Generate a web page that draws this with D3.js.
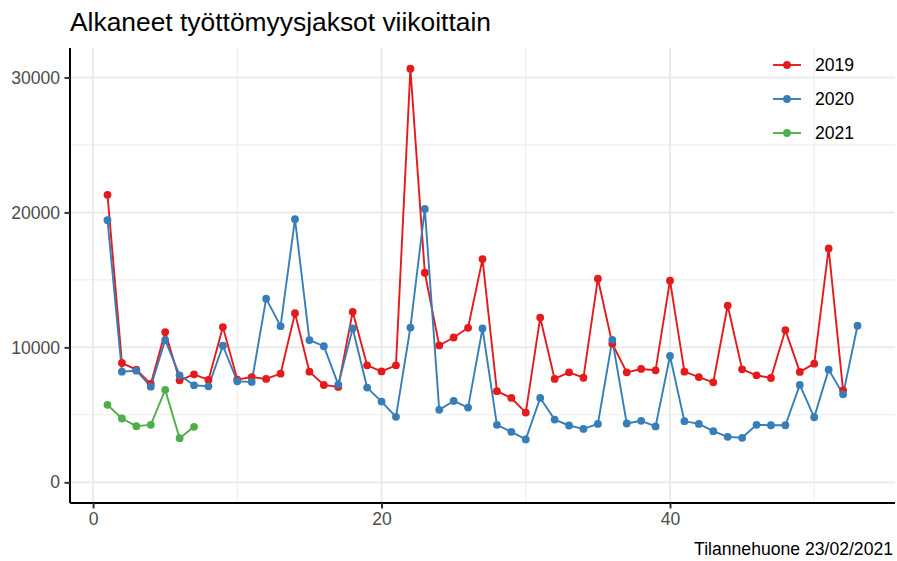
<!DOCTYPE html>
<html>
<head>
<meta charset="utf-8">
<script src="https://cdn.jsdelivr.net/npm/d3@7"></script>
<style>
  html, body { margin: 0; padding: 0; background: #fff; }
  svg { display: block; }
  text { font-family: "Liberation Sans", Arial, sans-serif; }
</style>
</head>
<body>
<svg id="chart" width="897" height="561"></svg>
<script>
// ---- data ----
const title = "Alkaneet työttömyysjaksot viikoittain";
const caption = "Tilannehuone 23/02/2021";
const seriesNames = ["2019", "2020", "2021"];
const seriesColors = ["#E41A1C", "#377EB8", "#4DAF4A"];
const values2019 = [21300, 8840, 8350, 7290, 11130, 7560, 8000, 7590, 11500, 7610,
  7800, 7660, 8050, 12530, 8200, 7210, 7070, 12630, 8670, 8220,
  8670, 30650, 15530, 10140, 10730, 11450, 16540, 6750, 6250, 5170,
  12210, 7660, 8150, 7750, 15090, 10270, 8150, 8400, 8300, 14940,
  8200, 7800, 7410, 13100, 8370, 7930, 7730, 11280, 8180, 8790,
  17330, 6820];
const values2020 = [19420, 8200, 8270, 7090, 10540, 7930, 7190, 7110, 10120, 7480,
  7440, 13610, 11570, 19500, 10540, 10090, 7240, 11400, 7020, 5980,
  4850, 11470, 20260, 5370, 6030, 5540, 11400, 4260, 3740, 3180,
  6250, 4650, 4210, 3960, 4330, 10560, 4360, 4560, 4140, 9360,
  4530, 4330, 3790, 3370, 3300, 4260, 4230, 4230, 7220, 4820,
  8350, 6520, 11600];
const values2021 = [5740, 4730, 4160, 4260, 6850, 3270, 4110];
const xMajorTicks = [0, 20, 40];
const xMinorTicks = [10, 30, 50];
const yMajorTicks = [0, 10000, 20000, 30000];
const yMinorTicks = [5000, 15000, 25000];

const series = [values2019, values2020, values2021].map((vals, i) => ({
  name: seriesNames[i],
  color: seriesColors[i],
  points: vals.map((v, j) => ({ week: j + 1, value: v }))
}));

// ---- layout ----
const svg = d3.select("#chart");
const panel = { left: 70, right: 895, top: 48, bottom: 503 };

const allPts = series.flatMap(s => s.points);
const xExt = d3.extent(allPts, d => d.week);
const yExt = d3.extent(allPts, d => d.value);
yExt[0] = Math.min(0, yExt[0]);
const xPad = (xExt[1] - xExt[0]) * 0.05;
const yPad = (yExt[1] - yExt[0]) * 0.05;

const x = d3.scaleLinear().domain([xExt[0] - xPad, xExt[1] + xPad]).range([panel.left, panel.right]);
const y = d3.scaleLinear().domain([yExt[0] - yPad, yExt[1] + yPad]).range([panel.bottom, panel.top]);

// ---- grid ----
const grid = svg.append("g");
grid.selectAll(".ymin").data(yMinorTicks).join("line")
  .attr("x1", panel.left).attr("x2", panel.right)
  .attr("y1", d => y(d)).attr("y2", d => y(d))
  .attr("stroke", "#EBEBEB").attr("stroke-width", 1);
grid.selectAll(".xmin").data(xMinorTicks).join("line")
  .attr("y1", panel.top).attr("y2", panel.bottom)
  .attr("x1", d => x(d)).attr("x2", d => x(d))
  .attr("stroke", "#EBEBEB").attr("stroke-width", 1);
grid.selectAll(".ymaj").data(yMajorTicks).join("line")
  .attr("x1", panel.left).attr("x2", panel.right)
  .attr("y1", d => y(d)).attr("y2", d => y(d))
  .attr("stroke", "#EBEBEB").attr("stroke-width", 2);
grid.selectAll(".xmaj").data(xMajorTicks).join("line")
  .attr("y1", panel.top).attr("y2", panel.bottom)
  .attr("x1", d => x(d)).attr("x2", d => x(d))
  .attr("stroke", "#EBEBEB").attr("stroke-width", 2);

// ---- lines & points ----
const line = d3.line().x(d => x(d.week)).y(d => y(d.value));
svg.append("g").selectAll("path").data(series).join("path")
  .attr("d", d => line(d.points))
  .attr("fill", "none")
  .attr("stroke", d => d.color)
  .attr("stroke-width", 1.9)
  .attr("stroke-linejoin", "round");
const ptG = svg.append("g");
series.forEach(s => {
  ptG.append("g").selectAll("circle").data(s.points).join("circle")
    .attr("cx", d => x(d.week)).attr("cy", d => y(d.value))
    .attr("r", 3.9).attr("fill", s.color);
});

// ---- axes ----
const axisFont = 17.6;
const yAxis = svg.append("g")
  .attr("transform", `translate(${panel.left},0)`)
  .call(d3.axisLeft(y).tickValues(yMajorTicks).tickSize(5.5).tickPadding(4.4).tickFormat(d3.format("d")));
const xAxis = svg.append("g")
  .attr("transform", `translate(0,${panel.bottom})`)
  .call(d3.axisBottom(x).tickValues(xMajorTicks).tickSize(5.5).tickPadding(4.4).tickFormat(d3.format("d")));
[xAxis, yAxis].forEach(a => {
  a.select(".domain").attr("stroke", "#000").attr("stroke-width", 2);
  a.selectAll(".tick line").attr("stroke", "#333").attr("stroke-width", 2);
  a.selectAll(".tick text").attr("fill", "#4D4D4D")
    .style("font-size", axisFont + "px")
    .style("font-family", '"Liberation Sans", Arial, sans-serif');
});
xAxis.select(".domain").attr("d", `M${panel.left},0H${panel.right}`);
yAxis.select(".domain").attr("d", `M0,${panel.top}V${panel.bottom}`);

// ---- title & caption ----
svg.append("text").attr("x", 70).attr("y", 31)
  .style("font-size", "26.4px").attr("fill", "#000").text(title);
svg.append("text").attr("x", 893).attr("y", 555)
  .attr("text-anchor", "end")
  .style("font-size", "17.6px").attr("fill", "#000").text(caption);

// ---- legend ----
const legend = svg.append("g");
series.forEach((s, i) => {
  const cy = 65 + i * 34;
  legend.append("line").attr("x1", 773).attr("x2", 801)
    .attr("y1", cy).attr("y2", cy)
    .attr("stroke", s.color).attr("stroke-width", 1.9);
  legend.append("circle").attr("cx", 787).attr("cy", cy).attr("r", 3.9).attr("fill", s.color);
  legend.append("text").attr("x", 815).attr("y", cy)
    .attr("dy", "0.36em")
    .style("font-size", "17.6px").attr("fill", "#000").text(s.name);
});
</script>
</body>
</html>
